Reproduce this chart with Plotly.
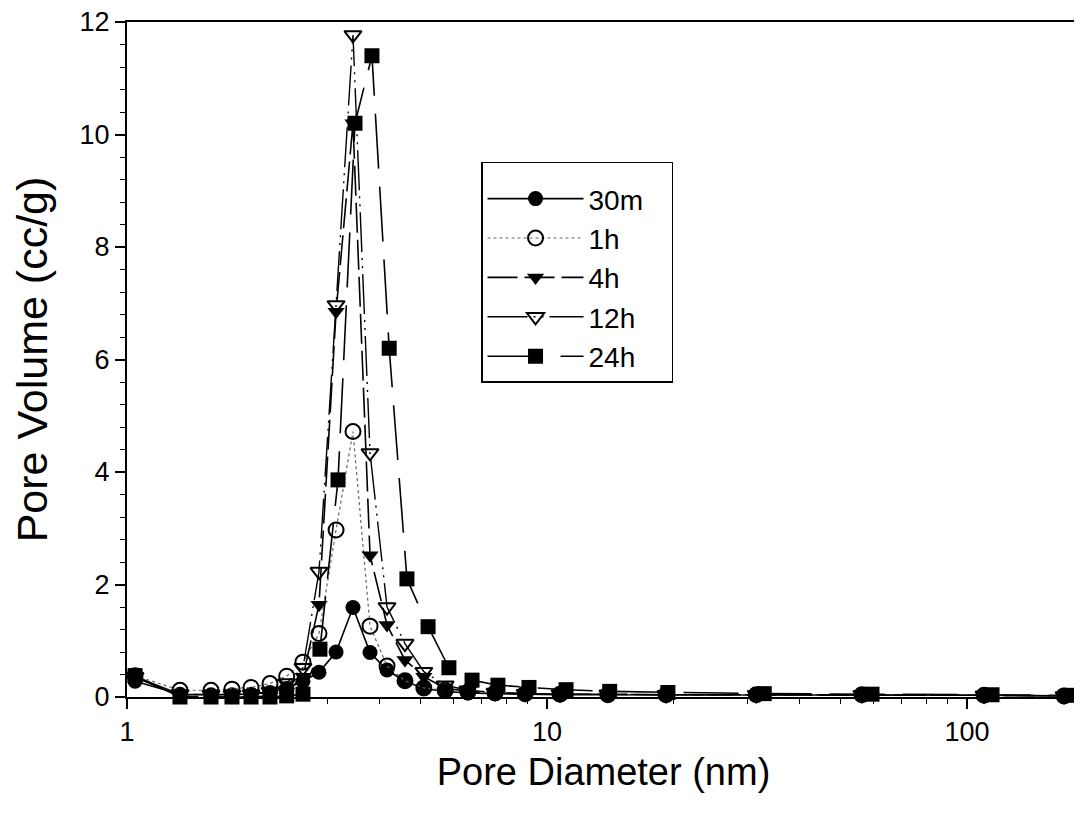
import plotly.graph_objects as go

# Pore diameter (nm) grid for 30m / 1h / 4h / 12h
d_common = [1.045, 1.337, 1.585, 1.778, 1.974, 2.19, 2.40, 2.624, 2.865, 3.146, 3.452, 3.79,
            4.16, 4.59, 5.09, 5.72, 6.48, 7.52, 8.87, 10.74, 13.96, 19.2, 31.5, 56.2, 109.8, 170.2]
# Pore diameter grid for 24h
d_24h = [1.045, 1.337, 1.585, 1.778, 1.974, 2.19, 2.40, 2.624, 2.88, 3.18, 3.49, 3.83,
         4.21, 4.64, 5.21, 5.84, 6.63, 7.64, 9.06, 11.1, 14.1, 19.4, 32.9, 59.4, 114.7, 175.8]

v_30m = [0.28, 0.05, 0.04, 0.04, 0.05, 0.08, 0.15, 0.28, 0.44, 0.80, 1.59, 0.79, 0.48, 0.28,
         0.15, 0.10, 0.07, 0.06, 0.05, 0.04, 0.04, 0.04, 0.04, 0.04, 0.03, 0.02]
v_1h = [0.38, 0.12, 0.12, 0.14, 0.17, 0.24, 0.37, 0.62, 1.13, 2.97, 4.72, 1.26, 0.55, 0.29,
        0.16, 0.12, 0.09, 0.07, 0.06, 0.05, 0.04, 0.04, 0.04, 0.04, 0.03, 0.02]
v_4h = [0.35, 0.02, 0.0, 0.0, 0.0, 0.02, 0.10, 0.36, 1.64, 6.85, 10.2, 2.52, 1.28, 0.66,
        0.36, 0.16, 0.10, 0.07, 0.06, 0.05, 0.05, 0.04, 0.04, 0.04, 0.03, 0.02]
v_12h = [0.36, 0.05, 0.04, 0.04, 0.05, 0.10, 0.25, 0.52, 2.23, 6.97, 11.77, 4.34, 1.60, 0.95,
         0.45, 0.21, 0.12, 0.08, 0.06, 0.05, 0.05, 0.04, 0.04, 0.04, 0.03, 0.02]
v_24h = [0.38, 0.0, 0.0, 0.0, 0.0, 0.0, 0.02, 0.05, 0.85, 3.86, 10.2, 11.4, 6.2, 2.1,
         1.25, 0.52, 0.30, 0.21, 0.17, 0.13, 0.10, 0.08, 0.06, 0.05, 0.04, 0.03]

x_ticks = [1, 10, 100]
x_ticklabels = ["1", "10", "100"]

series = [
    ("30m", d_common, v_30m, "circle", dict(color="black", width=1.6, dash="solid")),
    ("1h", d_common, v_1h, "circle-open", dict(color="#666666", width=1.2, dash="dot")),
    ("4h", d_common, v_4h, "triangle-down", dict(color="black", width=1.6, dash="30px,7px")),
    ("12h", d_common, v_12h, "triangle-down-open",
     dict(color="black", width=1.4, dash="40px,6px,2px,6px,2px,6px")),
    ("24h", d_24h, v_24h, "square", dict(color="black", width=1.6, dash="55px,18px")),
]

fig = go.Figure()
for name, xs, ys, sym, line in series:
    if "open" in sym:
        mk = dict(symbol=sym, size=15, color="black", line=dict(color="black", width=2))
    else:
        mk = dict(symbol=sym, size=15, color="black")
    fig.add_trace(go.Scatter(
        x=xs, y=ys, name=name, mode="lines+markers",
        line=line, marker=mk, cliponaxis=False,
    ))

font_family = "Liberation Sans, Arial, sans-serif"
tick_font = dict(family=font_family, size=27, color="black")
# page body has an 8px default margin, so the figure is offset by 8px
fig.update_layout(
    width=1074, height=808,
    margin=dict(l=119, r=2, t=14, b=119),
    paper_bgcolor="white", plot_bgcolor="white",
    font=dict(family=font_family, color="black", size=24),
    showlegend=True,
    legend=dict(
        x=0.3715, y=0.7926, xanchor="left", yanchor="top",
        bordercolor="black", borderwidth=1.5, bgcolor="white",
        font=dict(size=28), itemwidth=96,
        title=dict(text="&nbsp;" * 83, font=dict(size=8)),
        tracegroupgap=0,
    ),
    xaxis=dict(
        type="log", range=[0, 2.269],
        tickmode="array", tickvals=x_ticks, ticktext=x_ticklabels,
        ticks="outside", ticklen=10, tickwidth=1.5, tickcolor="black",
        minor=dict(ticks="outside", ticklen=5, tickwidth=1.2, tickcolor="black", dtick="D1", showgrid=False),
        showline=True, linecolor="black", linewidth=2, mirror=True,
        showgrid=False, zeroline=False, automargin=False,
        tickfont=tick_font, ticklabeloverflow="allow",
        title=dict(text="Pore Diameter (nm)", font=dict(size=38), standoff=12),
    ),
    yaxis=dict(
        range=[0, 12], dtick=2, tick0=0,
        ticks="outside", ticklen=10, tickwidth=1.5, tickcolor="black",
        minor=dict(ticks="outside", ticklen=5, tickwidth=1.2, tickcolor="black", dtick=0.4, showgrid=False),
        showline=True, linecolor="black", linewidth=2,
        showgrid=False, zeroline=False, automargin=False,
        tickfont=tick_font, ticklabeloverflow="allow",
        title=dict(text="Pore Volume (cc/g)", font=dict(size=43), standoff=20),
    ),
)

fig.write_html("out.html")
